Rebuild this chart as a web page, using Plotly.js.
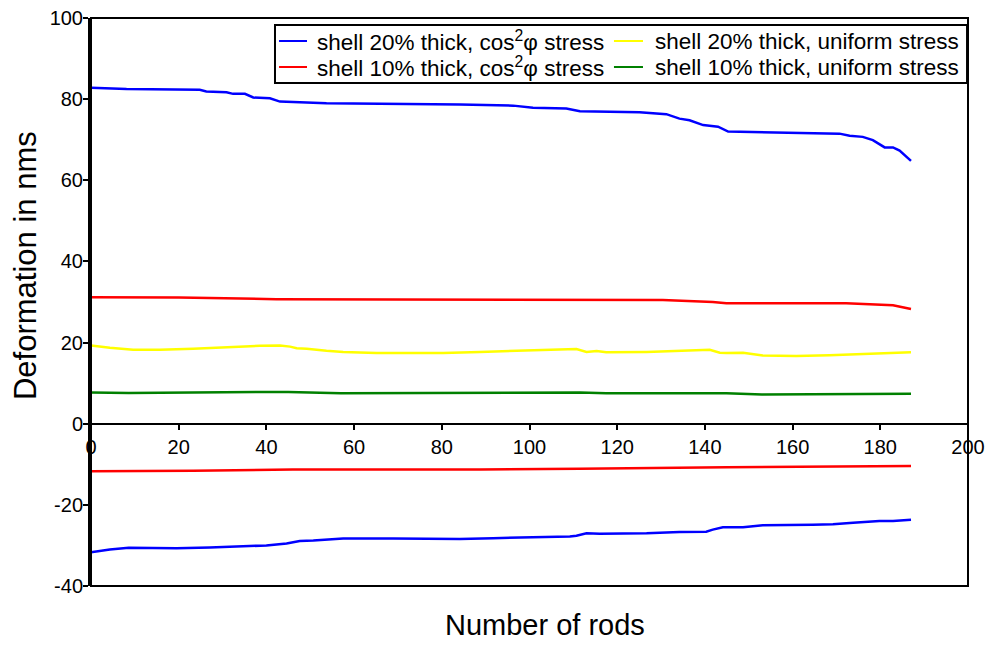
<!DOCTYPE html>
<html>
<head>
<meta charset="utf-8">
<script src="https://cdn.plot.ly/plotly-3.0.1.min.js"></script>
<style>
  html, body { margin: 0; padding: 0; background: #ffffff; }
  #chart { width: 990px; height: 645px; }
</style>
</head>
<body>
<div id="chart"></div>
<script>
// Shell 20% thick, cos^2(phi) stress: positive (outward) branch
const rodsBlueUp = [0, 8.1, 24.8, 26.3, 30.9, 32.4, 35.1, 37, 40.8, 43.1, 53.7, 65, 84.1, 96.3, 100.8, 108.4, 111.5, 125.1, 131.2, 134.2, 136.5, 139.6, 143, 145.3, 159.3, 170.7, 173, 176, 178.3, 181, 182.9, 184.4, 187];
const blueUp = [82.8, 82.5, 82.3, 81.9, 81.7, 81.3, 81.3, 80.4, 80.2, 79.4, 79.0, 78.9, 78.7, 78.4, 77.9, 77.7, 77.0, 76.8, 76.3, 75.2, 74.8, 73.6, 73.2, 72.0, 71.8, 71.5, 71.0, 70.7, 69.9, 68.1, 68.1, 67.3, 64.8];

// Shell 20% thick, cos^2(phi) stress: negative (inward) branch
const rodsBlueDown = [0, 4.3, 8.6, 19.5, 27.1, 35.5, 40, 44.6, 47.6, 50.7, 57.5, 68.9, 84.1, 91.7, 103.9, 109.2, 110.7, 113, 116, 126.7, 134.2, 140.3, 141.8, 144.1, 148.7, 153.2, 164.6, 169.2, 173.8, 179.8, 182.9, 187];
const blueDown = [-31.7, -31.0, -30.6, -30.7, -30.5, -30.2, -30.0, -29.5, -28.9, -28.8, -28.3, -28.3, -28.4, -28.2, -28.0, -27.8, -27.6, -27.0, -27.1, -27.0, -26.7, -26.6, -26.1, -25.5, -25.5, -25.0, -24.9, -24.8, -24.4, -24.0, -24.0, -23.7];

// Shell 10% thick, cos^2(phi) stress
const rodsRedUp = [0, 20, 42.3, 81.8, 88.7, 111.5, 130.4, 141.8, 144.9, 172.2, 179.8, 182.9, 187];
const redUp = [31.2, 31.1, 30.7, 30.6, 30.7, 30.5, 30.5, 30.0, 29.7, 29.7, 29.3, 29.2, 28.3];
const rodsRedDown = [0, 23.3, 46, 88.7, 111.5, 141, 144.9, 187];
const redDown = [-11.7, -11.6, -11.3, -11.3, -11.1, -10.9, -10.7, -10.4];

// Shell 20% thick, uniform stress
const rodsYellow = [0, 4.3, 9.6, 15.7, 23.3, 30.9, 38.5, 43.1, 45.4, 46.9, 49.2, 53.7, 57.5, 65.1, 72.7, 80.3, 88.7, 100, 110.7, 113, 115.3, 117.5, 126.7, 141.1, 143.4, 144.9, 148.7, 153.2, 160.8, 168.4, 179.8, 187];
const yellow = [19.3, 18.7, 18.2, 18.2, 18.5, 18.9, 19.2, 19.3, 19.0, 18.6, 18.5, 18.0, 17.7, 17.4, 17.4, 17.4, 17.7, 18.0, 18.4, 17.7, 17.9, 17.6, 17.7, 18.2, 17.5, 17.4, 17.5, 16.8, 16.7, 16.9, 17.4, 17.6];

// Shell 10% thick, uniform stress
const rodsGreen = [0, 8.6, 38, 45, 57, 88.7, 111.5, 117.5, 141, 144.9, 153, 187];
const green = [7.7, 7.6, 7.8, 7.8, 7.5, 7.6, 7.7, 7.5, 7.6, 7.5, 7.2, 7.4];

// Axis ticks
const yTickVals = [-40, -20, 0, 20, 40, 60, 80, 100];
const yTickText = ['-40', '-20', '0', '20', '40', '60', '80', '100'];
const xTickVals = [0, 20, 40, 60, 80, 100, 120, 140, 160, 180, 200];

// Legend entries, in reading order (two columns, two rows)
const legendNames = [
  'shell 20% thick, cos<sup>2</sup>φ stress',
  'shell 20% thick, uniform stress',
  'shell 10% thick, cos<sup>2</sup>φ stress',
  'shell 10% thick, uniform stress'
];
const legendColors = ['#0000ff', '#ffff00', '#ff0000', '#008000'];

const xTitle = 'Number of rods';
const yTitle = 'Deformation in nms';

const FONT = 'Liberation Sans, Arial, Helvetica, sans-serif';
const lw = 2.5;

const traces = [
  { x: rodsBlueUp, y: blueUp, name: legendNames[0], line: { color: legendColors[0], width: lw } },
  { x: rodsYellow, y: yellow, name: legendNames[1], line: { color: legendColors[1], width: lw } },
  { x: rodsRedUp, y: redUp, name: legendNames[2], line: { color: legendColors[2], width: lw } },
  { x: rodsGreen, y: green, name: legendNames[3], line: { color: legendColors[3], width: lw } },
  { x: rodsBlueDown, y: blueDown, name: legendNames[0], line: { color: legendColors[0], width: lw } },
  { x: rodsRedDown, y: redDown, name: legendNames[2], line: { color: legendColors[2], width: lw } }
].map(t => Object.assign({ type: 'scatter', mode: 'lines', hoverinfo: 'skip', showlegend: false }, t));

const yMin = -40, yMax = 100;

// Boxed two-column key in the upper right corner of the plot area (paper coordinates)
const key = {
  x0: 0.2098, x1: 0.9989, y0: 0.8856, y1: 0.9877,
  rows: [0.9595, 0.9137],
  cols: [
    { line0: 0.2144, line1: 0.2463, text: 0.2554 },
    { line0: 0.5963, line1: 0.6294, text: 0.6408 }
  ]
};

const shapes = [
  { type: 'rect', xref: 'paper', yref: 'paper', x0: 0, x1: 1, y0: 0, y1: 1,
    line: { color: '#000000', width: 2 }, fillcolor: 'rgba(0,0,0,0)', layer: 'above' },
  { type: 'rect', xref: 'paper', yref: 'paper', x0: key.x0, x1: key.x1, y0: key.y0, y1: key.y1,
    line: { color: '#000000', width: 2 }, fillcolor: '#ffffff', layer: 'above' }
];
const annotations = [
  { text: xTitle, xref: 'paper', yref: 'paper', x: 0.518, y: -0.069, xanchor: 'center', yanchor: 'middle',
    showarrow: false, font: { family: FONT, size: 29, color: '#000000' } },
  { text: yTitle, xref: 'paper', yref: 'paper', x: -0.0753, y: 0.565, xanchor: 'center', yanchor: 'middle',
    textangle: -90, showarrow: false, font: { family: FONT, size: 31, color: '#000000' } }
];
legendNames.forEach((name, i) => {
  const row = key.rows[Math.floor(i / 2)];
  const col = key.cols[i % 2];
  shapes.push({ type: 'line', xref: 'paper', yref: 'paper', x0: col.line0, x1: col.line1, y0: row, y1: row,
    line: { color: legendColors[i], width: 2 }, layer: 'above' });
  annotations.push({ text: name, xref: 'paper', yref: 'paper', x: col.text, y: row,
    xanchor: 'left', yanchor: 'middle', showarrow: false,
    font: { family: FONT, size: 22.5, color: '#000000' } });
});

const layout = {
  width: 990,
  height: 645,
  margin: { l: 91, r: 22, t: 18, b: 59 },
  paper_bgcolor: '#ffffff',
  plot_bgcolor: '#ffffff',
  font: { family: FONT, color: '#000000' },
  showlegend: false,
  xaxis: {
    range: [0, 200],
    tickmode: 'array', tickvals: xTickVals,
    anchor: 'free',
    position: (0 - yMin) / (yMax - yMin),
    showgrid: false,
    zeroline: false,
    showline: true, linecolor: '#000000', linewidth: 2,
    ticks: 'outside', ticklen: 5, tickwidth: 2, tickcolor: '#000000',
    tickfont: { family: FONT, size: 20, color: '#000000' }
  },
  yaxis: {
    range: [yMin, yMax],
    tickmode: 'array', tickvals: yTickVals, ticktext: yTickText,
    showgrid: false,
    zeroline: false,
    showline: true, linecolor: '#000000', linewidth: 3,
    ticks: 'outside', ticklen: 5, tickwidth: 2, tickcolor: '#000000',
    ticklabelstandoff: -4,
    tickfont: { family: FONT, size: 20, color: '#000000' }
  },
  shapes: shapes,
  annotations: annotations
};

Plotly.newPlot('chart', traces, layout, { displayModeBar: false, staticPlot: true });
</script>
</body>
</html>
